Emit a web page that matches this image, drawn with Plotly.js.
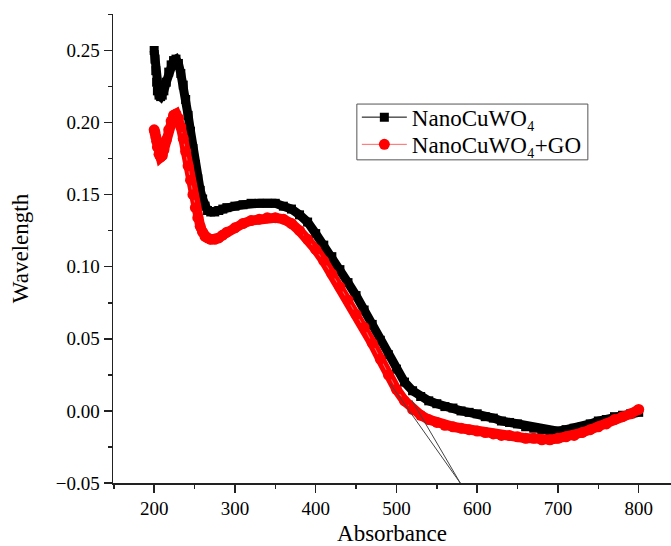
<!DOCTYPE html>
<html>
<head>
<meta charset="utf-8">
<script src="https://cdn.plot.ly/plotly-3.0.1.min.js"></script>
<style>html,body{margin:0;padding:0;background:#fff;}#chart{width:671px;height:546px;}</style>
</head>
<body>
<div id="chart"></div>
<script>
const wavelengthNm = [200,201,202,203,204,206,208,210,212,215,218,221,224,227,230,233,236,239,242,245,248,251,254,257,260,263,266,270,275,280,285,290,300,310,320,330,340,350,360,370,380,390,400,410,420,430,440,450,460,470,480,490,500,510,520,530,540,550,560,570,580,590,600,610,620,630,640,650,660,670,680,690,700,710,720,730,740,750,760,770,780,790,800];
const nanoCuWO4 = [0.250,0.244,0.236,0.228,0.222,0.219,0.218,0.219,0.222,0.228,0.235,0.240,0.243,0.244,0.241,0.234,0.226,0.216,0.205,0.194,0.182,0.171,0.161,0.153,0.147,0.142,0.139,0.138,0.138,0.139,0.140,0.141,0.142,0.143,0.144,0.144,0.144,0.144,0.142,0.140,0.136,0.131,0.123,0.115,0.107,0.098,0.089,0.080,0.070,0.060,0.049,0.039,0.029,0.020,0.014,0.010,0.007,0.005,0.003,0.002,0.000,-0.001,-0.002,-0.004,-0.005,-0.007,-0.008,-0.009,-0.011,-0.012,-0.013,-0.014,-0.014,-0.013,-0.012,-0.011,-0.009,-0.007,-0.006,-0.004,-0.003,-0.002,-0.001];
const nanoCuWO4GO = [0.195,0.193,0.190,0.187,0.183,0.178,0.176,0.177,0.181,0.188,0.195,0.201,0.205,0.206,0.203,0.197,0.189,0.180,0.170,0.160,0.150,0.141,0.134,0.128,0.124,0.121,0.120,0.119,0.119,0.120,0.122,0.124,0.127,0.130,0.132,0.133,0.134,0.134,0.133,0.130,0.125,0.119,0.112,0.104,0.095,0.086,0.077,0.067,0.058,0.047,0.036,0.025,0.015,0.007,0.001,-0.003,-0.006,-0.008,-0.010,-0.011,-0.012,-0.013,-0.014,-0.015,-0.016,-0.017,-0.017,-0.018,-0.019,-0.019,-0.020,-0.020,-0.019,-0.018,-0.017,-0.015,-0.013,-0.011,-0.009,-0.006,-0.004,-0.002,0.001];
const tangentRedX = [492, 579];
const tangentRedY = [0.019, -0.05];
const tangentBlackX = [519, 579];
const tangentBlackY = [0.0075, -0.05];
const seriesNames = ['NanoCuWO₄', 'NanoCuWO₄+GO'];
const xTicks = [200,300,400,500,600,700,800];
const yTicks = [-0.05,0,0.05,0.10,0.15,0.20,0.25];

const serif = 'Liberation Serif, Times New Roman, serif';
const traces = [
  {x: wavelengthNm, y: nanoCuWO4, mode: 'lines', line: {color: '#000', width: 9}, showlegend: false, hoverinfo: 'skip'},
  {x: wavelengthNm, y: nanoCuWO4, mode: 'lines+markers', name: seriesNames[0], legend: 'legend', line: {color: '#000', width: 1}, marker: {symbol: 'square', size: 9, color: '#000'}},
  {x: wavelengthNm, y: nanoCuWO4GO, mode: 'lines', line: {color: '#ff0000', width: 10}, showlegend: false, hoverinfo: 'skip'},
  {x: wavelengthNm, y: nanoCuWO4GO, mode: 'lines+markers', name: seriesNames[1], legend: 'legend2', line: {color: '#ff6666', width: 1}, marker: {symbol: 'circle', size: 11, color: '#ff0000'}},
  {x: tangentRedX, y: tangentRedY, mode: 'lines', line: {color: '#444', width: 1}, showlegend: false, hoverinfo: 'skip'},
  {x: tangentBlackX, y: tangentBlackY, mode: 'lines', line: {color: '#444', width: 1}, showlegend: false, hoverinfo: 'skip'}
];
const legendBase = {xanchor: 'left', yanchor: 'middle', borderwidth: 0, bgcolor: 'rgba(0,0,0,0)', font: {family: serif, size: 23}, itemwidth: 45};
const layout = {
  width: 671, height: 546,
  margin: {l: 113, r: 0, t: 14, b: 63},
  paper_bgcolor: '#fff', plot_bgcolor: '#fff',
  font: {family: serif, color: '#000', size: 19},
  showlegend: true,
  legend: Object.assign({}, legendBase, {x: 0.437, y: 0.780}),
  legend2: Object.assign({}, legendBase, {x: 0.437, y: 0.722}),
  shapes: [{type: 'rect', xref: 'paper', yref: 'paper', x0: 0.437, x1: 0.851, y0: 0.689, y1: 0.808, line: {color: '#555', width: 1}, fillcolor: 'rgba(0,0,0,0)', layer: 'below'}],
  xaxis: {
    range: [149, 840], showgrid: false, zeroline: false, showline: true, linecolor: '#222', linewidth: 1.5,
    ticks: 'outside', ticklen: 8, tickwidth: 1.5, tickcolor: '#222', tickvals: xTicks,
    minor: {dtick: 50, tick0: 0, ticks: 'outside', ticklen: 4, tickwidth: 1.5, tickcolor: '#222'},
    tickfont: {family: serif, size: 19},
    title: {text: 'Absorbance', font: {family: serif, size: 23}, standoff: 23}
  },
  yaxis: {
    range: [-0.05, 0.2753], showgrid: false, zeroline: false, showline: true, linecolor: '#222', linewidth: 1.5,
    ticks: 'outside', ticklen: 8, tickwidth: 1.5, tickcolor: '#222', tickvals: yTicks, tickformat: '.2f',
    minor: {dtick: 0.025, tick0: 0, ticks: 'outside', ticklen: 4, tickwidth: 1.5, tickcolor: '#222'},
    tickfont: {family: serif, size: 19},
    title: {text: 'Wavelength', font: {family: serif, size: 23}, standoff: 20}
  }
};
Plotly.newPlot('chart', traces, layout, {displayModeBar: false, staticPlot: true});
</script>
</body>
</html>
